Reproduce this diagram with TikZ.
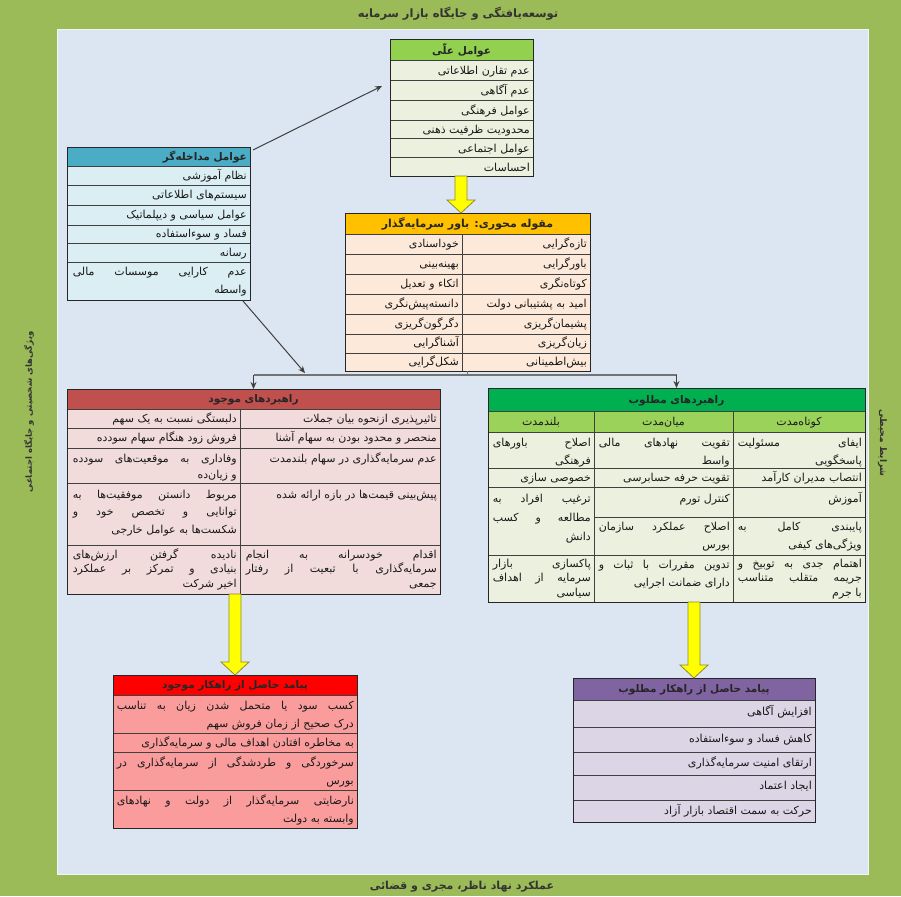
\documentclass[tikz,border=0pt]{standalone}
\usepackage{fontspec}
\setmainfont[Script=Arabic]{DejaVu Sans}
\TeXXeTstate=1
\usetikzlibrary{arrows.meta,calc}
\newcommand\fa[1]{\beginR\rule{0pt}{10pt}#1\endR}
\newcommand\fs{\fontsize{11}{15}\selectfont}
\newcommand\fsd{\fontsize{11}{18}\selectfont}
\newcommand\fst{\fontsize{11}{14.5}\selectfont}
\newcommand\J{\parfillskip=0pt\relax}
\newcommand\NL{\linebreak}
\newcommand\LL{\linebreak\hspace*{\fill}}
\definecolor{outerG}{HTML}{9BBB59}
\definecolor{panel}{HTML}{DCE6F2}
\definecolor{cHeadG}{HTML}{92D050}
\definecolor{cRowG}{HTML}{EBF1DE}
\definecolor{iHead}{HTML}{4BACC6}
\definecolor{iRow}{HTML}{DBEEF4}
\definecolor{mHead}{HTML}{FFC000}
\definecolor{mRow}{HTML}{FDE9D9}
\definecolor{eHead}{HTML}{C0504D}
\definecolor{eRow}{HTML}{F2DCDB}
\definecolor{dHead}{HTML}{00B050}
\definecolor{dSub}{HTML}{9BD35A}
\definecolor{dRow}{HTML}{EBF1DE}
\definecolor{oaHead}{HTML}{FF0000}
\definecolor{oaRow}{HTML}{FA9C9C}
\definecolor{obHead}{HTML}{8064A2}
\definecolor{obRow}{HTML}{DCD5E6}
\definecolor{yel}{HTML}{FFFF00}
\definecolor{yelEdge}{HTML}{8C8C2A}
\newcommand\yarrow[3]{%
  \filldraw[fill=yel,draw=yelEdge,line width=0.8pt] (#1-6,#2) -- (#1+6,#2) -- (#1+6,#3-13) -- (#1+14,#3-13) -- (#1,#3) -- (#1-14,#3-13) -- (#1-6,#3-13) -- cycle;}
\begin{document}
\begin{tikzpicture}[x=1pt,y=-1pt,
  tbox/.style={anchor=north west,inner sep=0pt,draw=none,outer sep=0pt},
  tline/.style={draw=black!75,line width=0.8pt},
  tborder/.style={draw=black!85,line width=1pt},
  tcell/.style={anchor=north east,align=right,inner sep=0pt,font=\fs,text=black!90,yshift=-2pt},
  jcell/.style={anchor=north east,text width=#1,align=justify,inner sep=0pt,font=\fs,text=black!90,yshift=-2pt},
  hdr/.style={font=\fontsize{10.5}{12}\selectfont\bfseries,text=black!85,inner sep=0pt},
  shdr/.style={font=\fs,text=black!90,inner sep=0pt},
  title/.style={font=\fontsize{11.5}{13}\selectfont\bfseries,text=black!80,inner sep=0pt},
  conn/.style={draw=black!75,line width=1pt,-{Stealth[length=7pt,width=6pt]}},
  grayline/.style={draw=black!55,line width=1.2pt}]
\useasboundingbox (0,0) rectangle (901,896);
\fill[outerG] (0,0) rectangle (901,896);
\fill[panel] (57,30) rectangle (868,874);
\draw[white!60!panel,line width=1pt] (57,30) rectangle (868,874);

% titles
\node[title] (ttl) at (458,14) {\fa{توسعه‌یافتگی و جایگاه بازار سرمایه}};
\node[title,font=\fontsize{11}{13}\selectfont\bfseries] (btm) at (462,886) {\fa{عملکرد نهاد ناظر، مجری و قضائی}};
\node[title,font=\fontsize{8.5}{11}\selectfont\bfseries,rotate=90] (lside) at (28,412) {\fa{ویژگی‌های شخصیتی و جایگاه اجتماعی}};
\node[title,font=\fontsize{9}{11}\selectfont\bfseries,rotate=-90] (rside) at (884,443) {\fa{شرایط محیطی}};

% ---------- causal factors
\node[tbox,fill=cRowG,minimum width=143,minimum height=136] (causal) at (390,40) {};
\fill[cHeadG] (390,40) rectangle (533,60);
\foreach \y in {60,80,100,120,138,157} \draw[tline] (390,\y) -- (533,\y);
\draw[tborder] (causal.north west) rectangle (causal.south east);
\node[hdr] (causalH) at (461.5,50) {\fa{عوامل علّی}};
\node[tcell] (c1) at (530,62) {\fa{عدم تقارن اطلاعاتی}};
\node[tcell] (c2) at (530,82) {\fa{عدم آگاهی}};
\node[tcell] (c3) at (530,102) {\fa{عوامل فرهنگی}};
\node[tcell] (c4) at (530,121) {\fa{محدودیت ظرفیت ذهنی}};
\node[tcell] (c5) at (530,140) {\fa{عوامل اجتماعی}};
\node[tcell] (c6) at (530,159) {\fa{احساسات}};

% ---------- intervening factors
\node[tbox,fill=iRow,minimum width=183,minimum height=152] (interv) at (67,148) {};
\fill[iHead] (67,148) rectangle (250,166);
\foreach \y in {166,185,205,225,243,262} \draw[tline] (67,\y) -- (250,\y);
\draw[tborder] (interv.north west) rectangle (interv.south east);
\node[hdr,anchor=east] (intervH) at (247,157) {\fa{عوامل مداخله‌گر}};
\node[tcell] (i1) at (247,167) {\fa{نظام آموزشی}};
\node[tcell] (i2) at (247,186) {\fa{سیستم‌های اطلاعاتی}};
\node[tcell] (i3) at (247,206) {\fa{عوامل سیاسی و دیپلماتیک}};
\node[tcell] (i4) at (247,225) {\fa{فساد و سوءاستفاده}};
\node[tcell] (i5) at (247,244) {\fa{رسانه}};
\node[jcell=174,font=\fsd] (i6) at (247,263) {\J\fa{عدم کارایی موسسات مالی}\LL\fa{واسطه}};

% ---------- central category
\node[tbox,fill=mRow,minimum width=245,minimum height=158] (central) at (345,213) {};
\fill[mHead] (345,213) rectangle (590,234);
\foreach \y in {234,254,274,294,314,334,353} \draw[tline] (345,\y) -- (590,\y);
\draw[tline] (462,234) -- (462,371);
\draw[tborder] (central.north west) rectangle (central.south east);
\node[hdr,font=\fontsize{11}{12}\selectfont\bfseries] (centralH) at (467.5,223.5) {\fa{مقوله محوری: باور سرمایه‌گذار}};
\node[tcell] (m1) at (587,235) {\fa{تازه‌گرایی}};
\node[tcell] (m2) at (587,255) {\fa{باورگرایی}};
\node[tcell] (m3) at (587,275) {\fa{کوتاه‌نگری}};
\node[tcell] (m4) at (587,295) {\fa{امید به پشتیبانی دولت}};
\node[tcell] (m5) at (587,315) {\fa{پشیمان‌گریزی}};
\node[tcell] (m6) at (587,334) {\fa{زیان‌گریزی}};
\node[tcell] (m7) at (587,353) {\fa{بیش‌اطمینانی}};
\node[tcell] (n1) at (459,235) {\fa{خوداسنادی}};
\node[tcell] (n2) at (459,255) {\fa{بهینه‌بینی}};
\node[tcell] (n3) at (459,275) {\fa{اتکاء و تعدیل}};
\node[tcell] (n4) at (459,295) {\fa{دانسته‌پیش‌نگری}};
\node[tcell] (n5) at (459,315) {\fa{دگرگون‌گریزی}};
\node[tcell] (n6) at (459,334) {\fa{آشناگرایی}};
\node[tcell] (n7) at (459,353) {\fa{شکل‌گرایی}};

% ---------- existing strategies
\node[tbox,fill=eRow,minimum width=373,minimum height=205] (exist) at (67,389) {};
\fill[eHead] (67,389) rectangle (440,409);
\foreach \y in {409,428,448,483,545} \draw[tline] (67,\y) -- (440,\y);
\draw[tline] (240,409) -- (240,594);
\draw[tborder] (exist.north west) rectangle (exist.south east);
\node[hdr] (existH) at (253.5,399) {\fa{راهبردهای موجود}};
\node[tcell] (e1) at (437,410) {\fa{تاثیرپذیری ازنحوه بیان جملات}};
\node[tcell] (e2) at (437,429) {\fa{منحصر و محدود بودن به سهام آشنا}};
\node[tcell] (e3) at (437,450) {\fa{عدم سرمایه‌گذاری در سهام بلندمدت}};
\node[tcell] (e4) at (437,486) {\fa{پیش‌بینی قیمت‌ها در بازه ارائه شده}};
\node[jcell=191,font=\fst] (e5) at (437,546) {\J\fa{اقدام خودسرانه به انجام}\NL\fa{سرمایه‌گذاری با تبعیت از رفتار}\LL\fa{جمعی}};
\node[tcell] (f1) at (237,410) {\fa{دلبستگی نسبت به یک سهم}};
\node[tcell] (f2) at (237,429) {\fa{فروش زود هنگام سهام سودده}};
\node[jcell=164,font=\fontsize{11}{16}\selectfont] (f3) at (237,450) {\J\fa{وفاداری به موقعیت‌های سودده}\LL\fa{و زیان‌ده}};
\node[jcell=164,font=\fontsize{11}{17.5}\selectfont] (f4) at (237,486) {\J\fa{مربوط دانستن موفقیت‌ها به}\NL\fa{توانایی و تخصص خود و}\LL\fa{شکست‌ها به عوامل خارجی}};
\node[jcell=164,font=\fst] (f5) at (237,546) {\J\fa{نادیده گرفتن ارزش‌های}\NL\fa{بنیادی و تمرکز بر عملکرد}\LL\fa{اخیر شرکت}};

% ---------- desired strategies
\node[tbox,fill=dRow,minimum width=377,minimum height=214] (desired) at (488,388) {};
\fill[dHead] (488,388) rectangle (865,411);
\fill[dSub] (488,411) rectangle (865,432);
\foreach \y in {411,432,468,487,555} \draw[tline] (488,\y) -- (865,\y);
\draw[tline] (594,517) -- (865,517);
\draw[tline] (594,411) -- (594,602);
\draw[tline] (733,411) -- (733,602);
\draw[tborder] (desired.north west) rectangle (desired.south east);
\node[hdr] (desiredH) at (676.5,399.5) {\fa{راهبردهای مطلوب}};
\node[shdr] (dS1) at (799,421.5) {\fa{کوتاه‌مدت}};
\node[shdr] (dS2) at (663.5,421.5) {\fa{میان‌مدت}};
\node[shdr] (dS3) at (541,421.5) {\fa{بلندمدت}};
\node[jcell=124,font=\fsd] (d11) at (862,434) {\J\fa{ایفای مسئولیت}\LL\fa{پاسخگویی}};
\node[tcell] (d12) at (862,469) {\fa{انتصاب مدیران کارآمد}};
\node[tcell] (d13) at (862,490) {\fa{آموزش}};
\node[jcell=124,font=\fsd] (d14) at (862,518) {\J\fa{پایبندی کامل به}\LL\fa{ویژگی‌های کیفی}};
\node[jcell=124,font=\fst] (d15) at (862,555) {\J\fa{اهتمام جدی به توبیخ و}\NL\fa{جریمه متقلب متناسب}\LL\fa{با جرم}};
\node[jcell=131,font=\fsd] (d21) at (730,434) {\J\fa{تقویت نهادهای مالی}\LL\fa{واسط}};
\node[tcell] (d22) at (730,469) {\fa{تقویت حرفه حسابرسی}};
\node[tcell] (d23) at (730,490) {\fa{کنترل تورم}};
\node[jcell=131,font=\fsd] (d24) at (730,518) {\J\fa{اصلاح عملکرد سازمان}\LL\fa{بورس}};
\node[jcell=131,font=\fsd] (d25) at (730,556) {\J\fa{تدوین مقررات با ثبات و}\LL\fa{دارای ضمانت اجرایی}};
\node[jcell=98,font=\fsd] (d31) at (591,434) {\J\fa{اصلاح باورهای}\LL\fa{فرهنگی}};
\node[tcell] (d32) at (591,469) {\fa{خصوصی سازی}};
\node[jcell=98,font=\fontsize{11}{19}\selectfont] (d33) at (591,490) {\J\fa{ترغیب افراد به}\NL\fa{مطالعه و کسب}\LL\fa{دانش}};
\node[jcell=98,font=\fst] (d35) at (591,555) {\J\fa{پاکسازی بازار}\NL\fa{سرمایه از اهداف}\LL\fa{سیاسی}};

% ---------- outcome of existing
\node[tbox,fill=oaRow,minimum width=244,minimum height=153] (outA) at (113,675) {};
\fill[oaHead] (113,675) rectangle (357,695);
\foreach \y in {695,733,752,790} \draw[tline] (113,\y) -- (357,\y);
\draw[tborder] (outA.north west) rectangle (outA.south east);
\node[hdr] (outAH) at (235,685) {\fa{پیامد حاصل از راهکار موجود}};
\node[jcell=237,font=\fsd] (a1) at (354,697) {\J\fa{کسب سود یا متحمل شدن زیان به تناسب}\LL\fa{درک صحیح از زمان فروش سهم}};
\node[tcell] (a2) at (354,734) {\fa{به مخاطره افتادن اهداف مالی و سرمایه‌گذاری}};
\node[jcell=237,font=\fsd] (a3) at (354,754) {\J\fa{سرخوردگی و طردشدگی از سرمایه‌گذاری در}\LL\fa{بورس}};
\node[jcell=237,font=\fsd] (a4) at (354,792) {\J\fa{نارضایتی سرمایه‌گذار از دولت و نهادهای}\LL\fa{وابسته به دولت}};

% ---------- outcome of desired
\node[tbox,fill=obRow,minimum width=242,minimum height=144] (outB) at (573,678) {};
\fill[obHead] (573,678) rectangle (815,700);
\foreach \y in {700,727,752,775,800} \draw[tline] (573,\y) -- (815,\y);
\draw[tborder] (outB.north west) rectangle (outB.south east);
\node[hdr] (outBH) at (694,689) {\fa{پیامد حاصل از راهکار مطلوب}};
\node[tcell] (b1) at (812,703) {\fa{افزایش آگاهی}};
\node[tcell] (b2) at (812,730) {\fa{کاهش فساد و سوءاستفاده}};
\node[tcell] (b3) at (812,754) {\fa{ارتقای امنیت سرمایه‌گذاری}};
\node[tcell] (b4) at (812,777) {\fa{ایجاد اعتماد}};
\node[tcell] (b5) at (812,802) {\fa{حرکت به سمت اقتصاد بازار آزاد}};

% ---------- connectors
\coordinate (jl) at (253.5,375);
\coordinate (jr) at (676.5,375);
\draw[grayline] (jl) -- (jr);
\draw[grayline] (central.south) -- (central.south |- jl);
\draw[conn] (jl) -- (exist.north);
\draw[conn] (jr) -- (desired.north);
\coordinate (ia) at ($(interv.north east)+(3,2)$);
\coordinate (ca) at ($(causal.north west)+(-8,46)$);
\draw[conn] (ia) -- (ca);
\coordinate (ib) at ($(interv.south east)+(-7,1)$);
\coordinate (jb) at (305,373);
\draw[conn] (ib) -- (jb);
\yarrow{461}{176}{213}
\yarrow{235}{594}{675}
\yarrow{694}{602}{678}
\end{tikzpicture}
\end{document}
